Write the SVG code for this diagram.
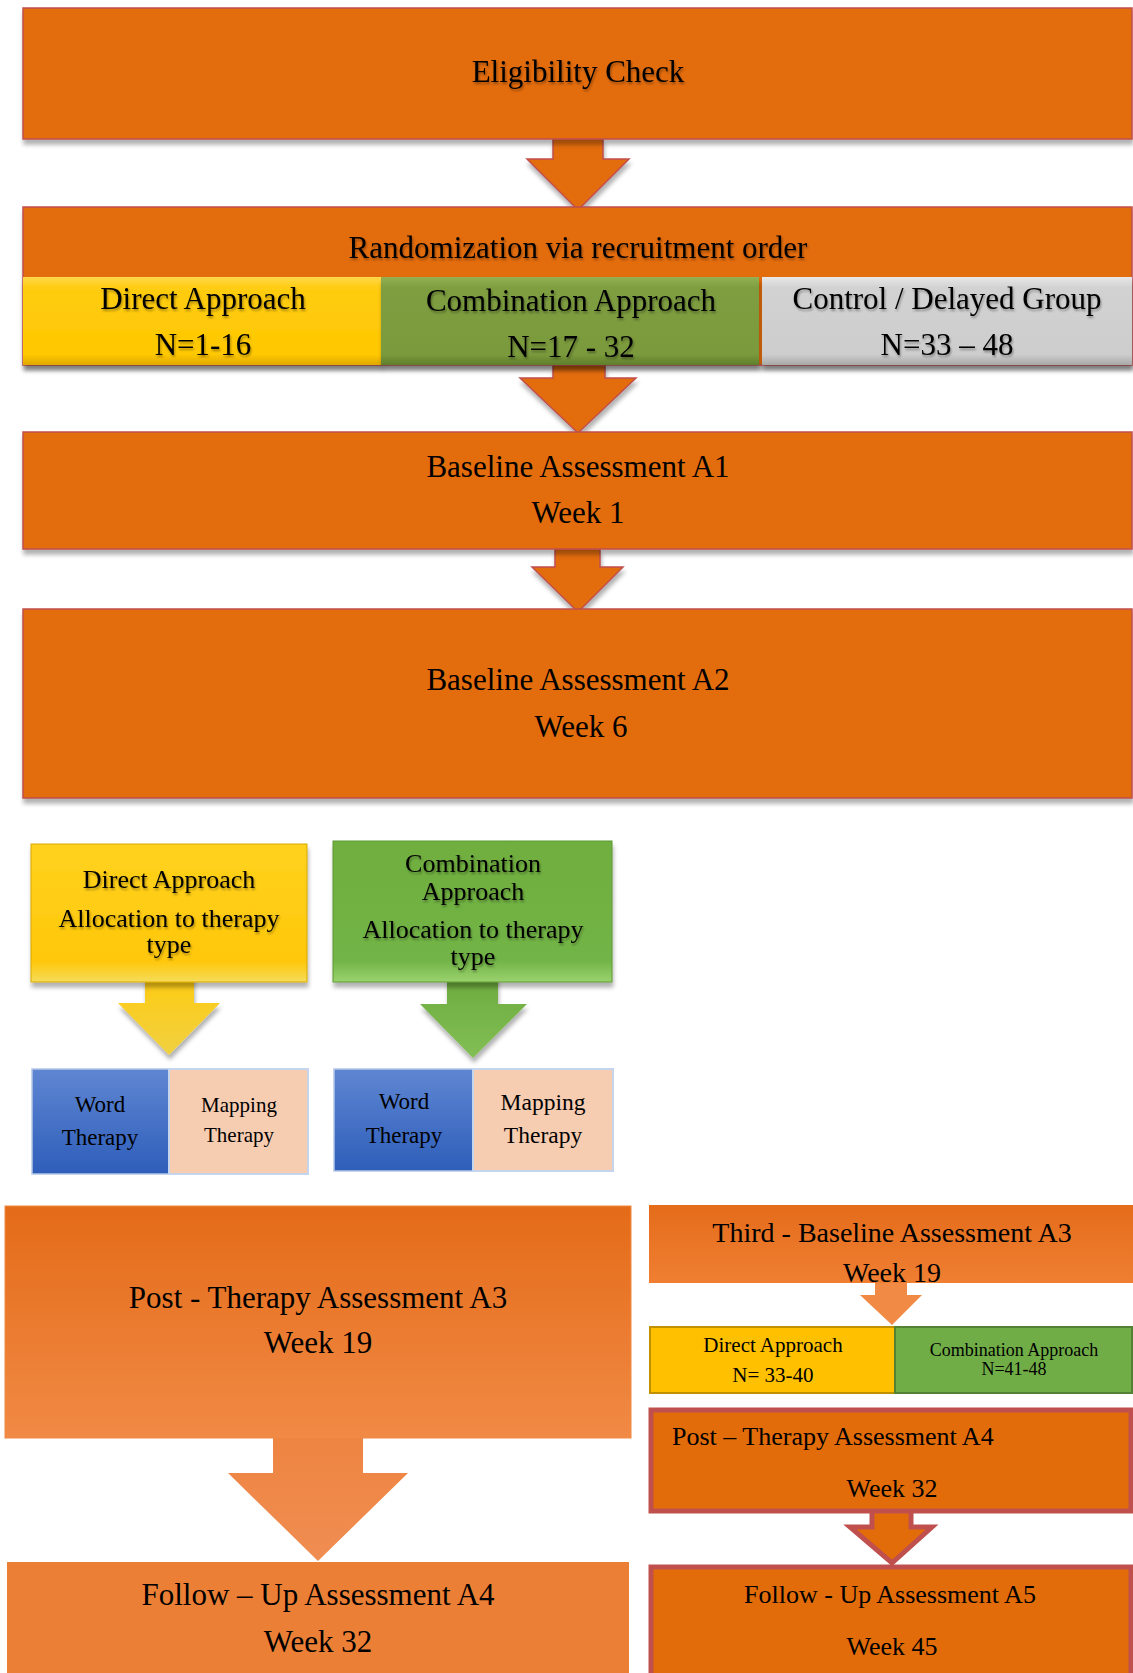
<svg xmlns="http://www.w3.org/2000/svg" width="1133" height="1673" viewBox="0 0 1133 1673">
<defs>
<filter id="sh" x="-5%" y="-10%" width="110%" height="130%"><feDropShadow dx="1" dy="5" stdDeviation="2" flood-color="#000" flood-opacity="0.3"/></filter>
<filter id="tsh" x="-5%" y="-20%" width="110%" height="150%"><feDropShadow dx="1" dy="2" stdDeviation="1" flood-color="#000" flood-opacity="0.35"/></filter>
<linearGradient id="gY" x1="0" y1="0" x2="0" y2="1"><stop offset="0" stop-color="#FFD84A"/><stop offset="0.12" stop-color="#FFCC12"/><stop offset="0.88" stop-color="#FFC800"/><stop offset="1" stop-color="#E0A800"/></linearGradient>
<linearGradient id="gG" x1="0" y1="0" x2="0" y2="1"><stop offset="0" stop-color="#93B152"/><stop offset="0.12" stop-color="#7E9E40"/><stop offset="0.88" stop-color="#7A9A3C"/><stop offset="1" stop-color="#5F7E2C"/></linearGradient>
<linearGradient id="gC" x1="0" y1="0" x2="0" y2="1"><stop offset="0" stop-color="#E8E8E8"/><stop offset="0.12" stop-color="#D2D2D2"/><stop offset="0.88" stop-color="#CDCDCD"/><stop offset="1" stop-color="#A8A8A8"/></linearGradient>
<linearGradient id="gY2" x1="0" y1="0" x2="0" y2="1"><stop offset="0" stop-color="#FFD21E"/><stop offset="0.85" stop-color="#FFC70A"/><stop offset="1" stop-color="#F5DC5A"/></linearGradient>
<linearGradient id="gG2" x1="0" y1="0" x2="0" y2="1"><stop offset="0" stop-color="#6FAE3E"/><stop offset="0.85" stop-color="#72B446"/><stop offset="1" stop-color="#9BD26E"/></linearGradient>
<linearGradient id="gYA" x1="0" y1="0" x2="0" y2="1"><stop offset="0" stop-color="#FFCB10"/><stop offset="1" stop-color="#F0D040"/></linearGradient>
<linearGradient id="gGA" x1="0" y1="0" x2="0" y2="1"><stop offset="0" stop-color="#6BAA3C"/><stop offset="1" stop-color="#82BE55"/></linearGradient>
<linearGradient id="gB" x1="0" y1="0" x2="0" y2="1"><stop offset="0" stop-color="#5F86D2"/><stop offset="1" stop-color="#2E5EBA"/></linearGradient>
<linearGradient id="gO1" x1="0" y1="0" x2="0" y2="1"><stop offset="0" stop-color="#E46B18"/><stop offset="1" stop-color="#F18A45"/></linearGradient>
<linearGradient id="gOA" x1="0" y1="0" x2="0" y2="1"><stop offset="0" stop-color="#EE8441"/><stop offset="1" stop-color="#F08D52"/></linearGradient>
<linearGradient id="gO3" x1="0" y1="0" x2="0" y2="1"><stop offset="0" stop-color="#E46C1B"/><stop offset="1" stop-color="#F07F32"/></linearGradient>
<style>
text{font-family:"Liberation Serif","Times New Roman",serif;fill:#000;text-anchor:middle}
.main{fill:#E36C0A;stroke:#C0504D;stroke-width:1.5}
.t31{font-size:31px}
.t26{font-size:26px}
.red{fill:#E36C0A;stroke:#C0504D;stroke-width:5}
</style>
</defs>

<g id="connectors">
<polygon class="main" points="553,139 603,139 603,159 629,159 578,210 527,159 553,159" filter="url(#sh)"/>
<polygon class="main" points="553,365 605,365 605,378 636,378 578,433 520,378 553,378" filter="url(#sh)"/>
<polygon class="main" points="555,549 600,549 600,567 623,567 578,612 532,567 555,567" filter="url(#sh)"/>
<polygon fill="url(#gYA)" points="145,970 194,970 194,1003 220,1003 169,1055 118,1003 145,1003" filter="url(#sh)"/>
<polygon fill="url(#gGA)" points="447,970 498,970 498,1004 527,1004 473,1058 420,1004 447,1004" filter="url(#sh)"/>
<polygon fill="url(#gOA)" points="273,1437 363,1437 363,1473 408,1473 318,1561 228,1473 273,1473"/>
<polygon fill="#F08A45" points="875,1282 907,1282 907,1295 922,1295 892,1325 860,1295 875,1295"/>
<polygon class="red" points="872,1510 911,1510 911,1527 932,1527 892,1563 850,1527 872,1527"/>
</g>

<g id="eligibility">
<rect class="main" x="23" y="8" width="1109" height="131" filter="url(#sh)"/>
<text class="t31" x="578" y="82" filter="url(#tsh)">Eligibility Check</text>
</g>

<g id="randomization">
<rect class="main" x="23" y="207" width="1109" height="158" filter="url(#sh)"/>
<text class="t31" x="578" y="258" filter="url(#tsh)">Randomization via recruitment order</text>
</g>

<g id="direct-approach">
<rect x="23" y="277" width="359" height="88" fill="url(#gY)" filter="url(#sh)"/>
<text class="t31" x="203" y="309" filter="url(#tsh)">Direct Approach</text>
<text class="t31" x="203" y="355" filter="url(#tsh)">N=1-16</text>
</g>

<g id="combination-approach">
<rect x="381" y="277" width="378" height="88" fill="url(#gG)" filter="url(#sh)"/>
<text class="t31" x="571" y="311" filter="url(#tsh)">Combination Approach</text>
<text class="t31" x="571" y="357" filter="url(#tsh)">N=17 - 32</text>
</g>

<g id="control-group">
<rect x="762" y="277" width="370" height="88" fill="url(#gC)" filter="url(#sh)"/>
<text class="t31" x="947" y="309" filter="url(#tsh)">Control / Delayed Group</text>
<text class="t31" x="947" y="355" filter="url(#tsh)">N=33 – 48</text>
</g>

<g id="baseline-a1">
<rect class="main" x="23" y="432" width="1109" height="117" filter="url(#sh)"/>
<text class="t31" x="578" y="477">Baseline Assessment A1</text>
<text class="t31" x="578" y="523">Week 1</text>
</g>

<g id="baseline-a2">
<rect class="main" x="23" y="609" width="1109" height="189" filter="url(#sh)"/>
<text class="t31" x="578" y="690">Baseline Assessment A2</text>
<text class="t31" x="581" y="737">Week 6</text>
</g>

<g id="direct-allocation">
<rect x="31" y="844" width="276" height="138" fill="url(#gY2)" stroke="#D8A800" stroke-width="1" filter="url(#sh)"/>
<text class="t26" x="169" y="888" filter="url(#tsh)">Direct Approach</text>
<text class="t26" x="169" y="927" filter="url(#tsh)">Allocation to therapy</text>
<text class="t26" x="169" y="953" filter="url(#tsh)">type</text>
</g>

<g id="combination-allocation">
<rect x="333" y="841" width="279" height="141" fill="url(#gG2)" stroke="#5C9A34" stroke-width="1" filter="url(#sh)"/>
<text class="t26" x="473" y="872" filter="url(#tsh)">Combination</text>
<text class="t26" x="473" y="900" filter="url(#tsh)">Approach</text>
<text class="t26" x="473" y="938" filter="url(#tsh)">Allocation to therapy</text>
<text class="t26" x="473" y="965" filter="url(#tsh)">type</text>
</g>

<g id="word-therapy-1">
<rect x="32" y="1069" width="137" height="105" fill="url(#gB)" stroke="#B4C7E7" stroke-width="1.5"/>
<text x="100" y="1112" font-size="23">Word</text>
<text x="100" y="1145" font-size="23">Therapy</text>
</g>
<g id="mapping-therapy-1">
<rect x="169" y="1069" width="139" height="105" fill="#F7CDB1" stroke="#C5D5EE" stroke-width="2"/>
<text x="239" y="1112" font-size="21">Mapping</text>
<text x="239" y="1142" font-size="21">Therapy</text>
</g>

<g id="word-therapy-2">
<rect x="334" y="1069" width="139" height="102" fill="url(#gB)" stroke="#B4C7E7" stroke-width="1.5"/>
<text x="404" y="1109" font-size="23">Word</text>
<text x="404" y="1143" font-size="23">Therapy</text>
</g>
<g id="mapping-therapy-2">
<rect x="473" y="1069" width="140" height="102" fill="#F7CDB1" stroke="#C5D5EE" stroke-width="2"/>
<text x="543" y="1110" font-size="23.5">Mapping</text>
<text x="543" y="1143" font-size="23.5">Therapy</text>
</g>

<g id="post-therapy-a3">
<rect x="5" y="1206" width="626" height="232" fill="url(#gO1)" stroke="#F08A45" stroke-width="1"/>
<text class="t31" x="318" y="1308">Post - Therapy Assessment A3</text>
<text class="t31" x="318" y="1353">Week 19</text>
</g>

<g id="follow-up-a4">
<rect x="7" y="1562" width="622" height="115" fill="#EC7F36"/>
<text class="t31" x="318" y="1605">Follow – Up Assessment A4</text>
<text class="t31" x="318" y="1652">Week 32</text>
</g>

<g id="third-baseline-a3">
<rect x="649" y="1205" width="484" height="78" fill="url(#gO3)"/>
<text x="892" y="1242" font-size="28">Third - Baseline Assessment A3</text>
<text x="892" y="1282" font-size="28">Week 19</text>
</g>

<g id="direct-approach-2">
<rect x="650" y="1327" width="245" height="66" fill="#FFC000" stroke="#BF9000" stroke-width="2"/>
<text x="773" y="1352" font-size="21">Direct Approach</text>
<text x="773" y="1382" font-size="21">N= 33-40</text>
</g>

<g id="combination-approach-2">
<rect x="895" y="1327" width="237" height="66" fill="#70AD47" stroke="#548235" stroke-width="2"/>
<text x="1014" y="1356" font-size="18">Combination  Approach</text>
<text x="1014" y="1375" font-size="18">N=41-48</text>
</g>

<g id="post-therapy-a4">
<rect class="red" x="651" y="1410" width="480" height="101"/>
<text x="672" y="1445" font-size="26" style="text-anchor:start">Post – Therapy Assessment A4</text>
<text x="892" y="1497" font-size="26">Week 32</text>
</g>

<g id="follow-up-a5">
<rect class="red" x="651" y="1567" width="480" height="115"/>
<text x="890" y="1603" font-size="26">Follow - Up Assessment A5</text>
<text x="892" y="1655" font-size="26">Week 45</text>
</g>
</svg>
